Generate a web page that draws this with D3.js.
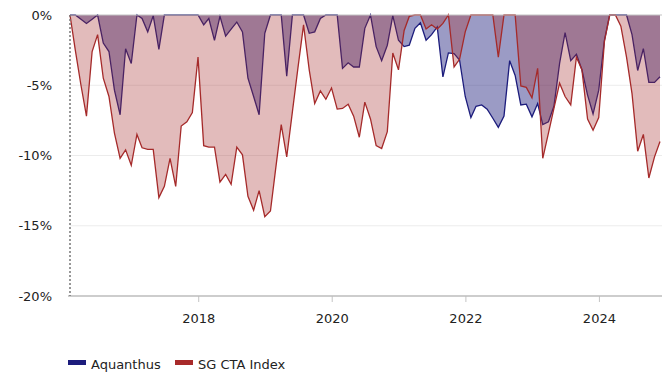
<!DOCTYPE html>
<html>
<head>
<meta charset="utf-8">
<script src="https://cdn.jsdelivr.net/npm/d3@7/dist/d3.min.js"></script>
<style>
  html, body { margin: 0; padding: 0; background: #fff; }
  svg { display: block; font-family: "DejaVu Sans", Verdana, sans-serif; }
</style>
</head>
<body>
<svg id="chart" width="666" height="374"></svg>
<script>
// Monthly drawdowns (%), month-end observations from Jan 2016 to Nov 2024
const firstMonth = "2016-01";
const monthCount = 107;

const seriesNames = ["Aquanthus", "SG CTA Index"];

const aquanthus = [
  0, 0, -0.3, -0.6, -0.3, 0, -2.0, -2.6, -5.35, -7.1,
  -2.4, -3.45, 0, -0.25, -1.2, -0.05, -2.45, 0, 0, 0,
  0, 0, 0, 0, -0.7, -0.25, -1.8, -0.1, -1.5, -1.0,
  -0.5, -1.2, -4.5, -5.8, -7.1, -1.3, 0, 0, 0, -4.35,
  0, 0, 0, -1.3, -1.2, -0.25, 0, 0, 0, -3.8,
  -3.4, -3.7, -3.7, -0.95, 0, -2.25, -3.25, -2.15, -0.05, -1.8,
  -2.25, -2.15, -0.95, -0.55, -1.8, -1.4, -0.85, -4.4, -2.7, -2.75,
  -3.2, -5.8, -7.3, -6.5, -6.4, -6.7, -7.35, -8.0, -7.2, -3.25,
  -4.3, -6.4, -6.35, -7.25, -6.3, -7.8, -7.6, -6.5, -3.45, -1.25,
  -3.25, -2.8, -3.9, -5.7, -7.05, -5.35, -1.8, 0, 0, 0,
  0, -1.4, -3.95, -2.4, -4.8, -4.8, -4.4
];

const sgCta = [
  0, -2.5, -5.0, -7.2, -2.6, -1.4, -4.5, -5.8, -8.4, -10.2,
  -9.6, -10.7, -8.5, -9.45, -9.56, -9.56, -13.0, -12.2, -10.2, -12.2,
  -7.9, -7.6, -6.95, -3.0, -9.3, -9.4, -9.4, -11.9, -11.35, -12.05,
  -9.4, -9.95, -12.9, -13.9, -12.5, -14.35, -13.95, -11.0, -7.8, -10.1,
  -6.9, -3.8, -0.7, -3.9, -6.3, -5.4, -6.0, -5.2, -6.7, -6.65,
  -6.35, -7.2, -8.7, -6.2, -7.4, -9.3, -9.5, -8.3, -2.7, -3.9,
  -1.1, -0.1, 0, 0, -1.0, -0.7, -1.0, -0.6, 0, -3.7,
  -3.15, -1.2, 0, 0, 0, 0, 0, -3.0, 0, 0,
  0, -5.05, -5.15, -5.9, -3.8, -10.2, -8.4, -6.65, -4.85, -5.8,
  -6.4, -3.0, -3.9, -7.4, -8.2, -7.3, -1.9, 0, 0, -0.8,
  -3.0, -5.6, -9.7, -8.5, -11.6, -10.1, -9.0
];

const yTicks = [0, -5, -10, -15, -20];
const xTickYears = [2018, 2020, 2022, 2024];

// month-end dates
const start = d3.timeParse("%Y-%m")(firstMonth);
const dates = d3.range(monthCount).map(i => d3.timeDay.offset(d3.timeMonth.offset(start, i + 1), -1));

const colors = { navy: "#1c1c7c", red: "#a52a2a" };

const svg = d3.select("#chart");
const plotLeft = 70, plotRight = 660, plotTop = 15, plotBottom = 296;

const x = d3.scaleTime().domain(d3.extent(dates)).range([plotLeft, plotRight]);
const y = d3.scaleLinear().domain([-20, 0]).range([plotBottom, plotTop]);

// horizontal gridlines
svg.append("g")
  .selectAll("line")
  .data(yTicks.filter(v => v !== 0 && v !== -20))
  .join("line")
  .attr("x1", plotLeft).attr("x2", plotRight + 2)
  .attr("y1", d => y(d)).attr("y2", d => y(d))
  .attr("stroke", "#ececec").attr("stroke-width", 1);

const area = vals => d3.area()
  .x((d, i) => x(dates[i]))
  .y0(y(0))
  .y1(d => y(d))(vals);
const line = vals => d3.line()
  .x((d, i) => x(dates[i]))
  .y(d => y(d))(vals);

// Aquanthus below, SG CTA on top
svg.append("path").attr("d", area(aquanthus))
  .attr("fill", colors.navy).attr("fill-opacity", 0.44);
svg.append("path").attr("d", line(aquanthus))
  .attr("fill", "none").attr("stroke", colors.navy).attr("stroke-width", 1.3);
svg.append("path").attr("d", area(sgCta))
  .attr("fill", "#a83232").attr("fill-opacity", 0.33);
svg.append("path").attr("d", line(sgCta))
  .attr("fill", "none").attr("stroke", colors.red).attr("stroke-width", 1.3);

// zero line
svg.append("line")
  .attr("x1", plotLeft).attr("x2", plotRight + 2)
  .attr("y1", y(0)).attr("y2", y(0))
  .attr("stroke", "#c4c4c4").attr("stroke-width", 1.2);

// y axis labels
const yAxis = d3.axisLeft(y).tickValues(yTicks).tickSize(0).tickPadding(18)
  .tickFormat(d => d + "%");
const gy = svg.append("g").attr("transform", `translate(${plotLeft},0)`).call(yAxis);
gy.select(".domain").remove();
gy.selectAll("text").attr("font-size", 13).attr("fill", "#222")
  .attr("font-family", "DejaVu Sans, Verdana, sans-serif");

// x axis
const xAxis = d3.axisBottom(x)
  .tickValues(xTickYears.map(yr => new Date(yr, 0, 1)))
  .tickSize(6).tickPadding(12)
  .tickFormat(d3.timeFormat("%Y"));
const gx = svg.append("g").attr("transform", `translate(0,${plotBottom})`).call(xAxis);
gx.select(".domain").remove();
gx.selectAll(".tick line").attr("stroke", "#c4c4c4");
gx.selectAll("text").attr("font-size", 13).attr("fill", "#222")
  .attr("font-family", "DejaVu Sans, Verdana, sans-serif");
svg.append("line")
  .attr("x1", plotLeft - 2).attr("x2", plotRight + 2)
  .attr("y1", plotBottom).attr("y2", plotBottom)
  .attr("stroke", "#bdbdbd").attr("stroke-width", 1.5);

// dotted left axis
svg.append("line")
  .attr("x1", plotLeft).attr("x2", plotLeft)
  .attr("y1", plotTop).attr("y2", plotBottom)
  .attr("stroke", "#777").attr("stroke-width", 1.5)
  .attr("stroke-dasharray", "2,2");

// legend
const legend = svg.append("g").attr("transform", "translate(68,360)");
const legendItems = [
  { name: seriesNames[0], color: colors.navy, x: 0 },
  { name: seriesNames[1], color: "#a82a2a", x: 107 }
];
const li = legend.selectAll("g").data(legendItems).join("g")
  .attr("transform", d => `translate(${d.x},0)`);
li.append("rect").attr("width", 18).attr("height", 5).attr("fill", d => d.color);
li.append("text").attr("x", 23).attr("y", 8.5)
  .attr("font-size", 13).attr("fill", "#222")
  .text(d => d.name);
</script>
</body>
</html>
